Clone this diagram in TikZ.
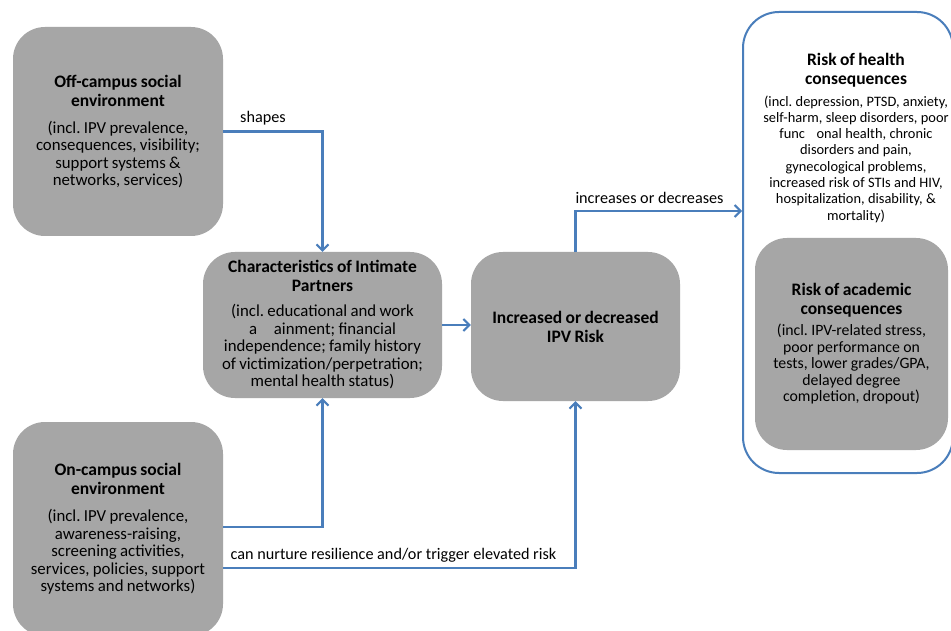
\documentclass[tikz,border=0pt]{standalone}
\usepackage{fontspec}
\setmainfont{Carlito}
\usetikzlibrary{arrows.meta}
\frenchspacing
\definecolor{boxgray}{HTML}{A6A6A6}
\definecolor{linkblue}{HTML}{4A7EBB}
\newcommand{\ttlfont}{\fontsize{17.5}{19}\selectfont\bfseries}
\newcommand{\bdyfont}{\fontsize{16.8}{17.5}\selectfont\mdseries}
\begin{document}
\begin{tikzpicture}[x=1pt,y=-1pt,
  gbox/.style={fill=boxgray, draw=none, rounded corners=32pt, inner sep=0pt, align=center},
  link/.style={draw=linkblue, line width=2.3pt, -{Straight Barb[length=6pt,width=12pt,line width=2pt]}},
  lbl/.style={font=\fontsize{16.2}{18}\selectfont, inner sep=0pt}]
\useasboundingbox (0,0) rectangle (951,631);
\fill[white] (0,0) rectangle (951,631);

% outer frame on the right
\node[draw=linkblue, line width=2pt, fill=white, rounded corners=36pt, minimum width=210pt, minimum height=461pt, inner sep=0pt] (outer) at (848,242.5) {};

% boxes
\node[gbox, minimum width=210pt, minimum height=209pt, text width=205pt] (off) at (118,131.5)
 {\ttlfont Off-campus social\\environment\par\vspace{9.5pt}
  \bdyfont (incl. IPV prevalence,\\consequences, visibility;\\support systems \&\\networks, services)\par};

\node[gbox, minimum width=239pt, minimum height=146pt, text width=235pt] (char) at (322.5,325)
 {\ttlfont Characteristics of Intimate\\Partners\par\vspace{7.5pt}
  \bdyfont (incl. educational and work\\a\hspace{1em}ainment; financial\\independence; family history\\of victimization/perpetration;\\mental health status)\par};

\node[gbox, minimum width=209pt, minimum height=149pt, text width=205pt] (ipv) at (575.5,326.5)
 {\ttlfont Increased or decreased\\IPV Risk\par};

\node[gbox, minimum width=210pt, minimum height=214pt, text width=205pt] (on) at (118,529)
 {\ttlfont On-campus social\\environment\par\vspace{9.5pt}
  \bdyfont (incl. IPV prevalence,\\awareness-raising,\\screening activities,\\services, policies, support\\systems and networks)\par};

\node[align=center, text width=205pt, inner sep=0pt] (health) at (856,138)
 {\ttlfont Risk of health\\consequences\par\vspace{5pt}
  \fontsize{14.4}{16.3}\selectfont\mdseries (incl. depression, PTSD, anxiety,\\self-harm, sleep disorders, poor\\func\hspace{0.8em}onal health, chronic\\disorders and pain,\\gynecological problems,\\increased risk of STIs and HIV,\\hospitalization, disability, \&\\mortality)\par};

\node[gbox, minimum width=193pt, minimum height=212pt, text width=190pt] (acad) at (851.5,344)
 {\ttlfont Risk of academic\\consequences\par\vspace{4.5pt}
  \fontsize{15.8}{16.5}\selectfont\mdseries (incl. IPV-related stress,\\poor performance on\\tests, lower grades/GPA,\\delayed degree\\completion, dropout)\par};

% connectors
\draw[link] (off.east) -| (char.north);
\draw[link] (char.east) -- (char.east -| ipv.west);
\draw[link] (ipv.north) |- ([yshift=31.5pt]outer.west);
\draw[link] ([yshift=2pt]on.east) -| (char.south);
\draw[link] ([yshift=-39pt]on.east) -| (ipv.south);

% connector labels
\node[lbl] (lshapes) at (263,118) {shapes};
\node[lbl] (lincr) at (649.5,198) {increases or decreases};
\node[lbl] (lnurt) at (393.5,555) {can nurture resilience and/or trigger elevated risk};
\end{tikzpicture}
\end{document}
